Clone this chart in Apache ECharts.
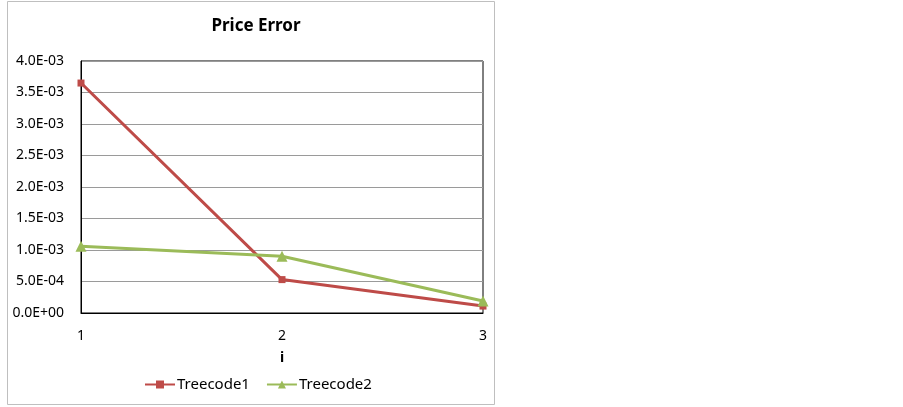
<!DOCTYPE html>
<html><head><meta charset="utf-8">
<script src="https://cdn.jsdelivr.net/npm/echarts@6/dist/echarts.min.js"></script>
<style>html,body{margin:0;padding:0;background:#fff}#c{width:903px;height:407px}</style>
</head><body><div id="c"></div>
<script>
const categories = [1, 2, 3];
const treecode1 = [0.00365, 0.00053, 0.00011];
const treecode2 = [0.00106, 0.00090, 0.00019];
const seriesNames = ['Treecode1', 'Treecode2'];
const yTicks = [0, 0.0005, 0.001, 0.0015, 0.002, 0.0025, 0.003, 0.0035, 0.004];

function fmt(v) {
  if (v === 0) return '0.0E+00';
  let s = v.toExponential(1).toUpperCase();
  return s.replace(/E([+-])(\d)$/, 'E$10$2');
}
const font = 'Noto Sans';
const chart = echarts.init(document.getElementById('c'));
chart.setOption({
  animation: false,
  backgroundColor: '#fff',
  graphic: [{type: 'rect', shape: {x: 7.5, y: 1.5, width: 487, height: 403}, style: {fill: 'none', stroke: '#bfbfbf', lineWidth: 1}, z: -1}],
  title: {text: 'Price Error', left: 251, textAlign: 'center', top: 13, textStyle: {fontFamily: font, fontSize: 17, fontWeight: 'bold', color: '#000'}},
  grid: {left: 81, top: 61, width: 402, height: 252, show: true, borderColor: '#000', borderWidth: 1, containLabel: false},
  legend: {data: seriesNames, left: 139, top: 372, itemGap: 16, itemWidth: 30, itemHeight: 10,
    textStyle: {fontFamily: font, fontSize: 15, color: '#000', padding: [0, 0, 0, -3]}},
  xAxis: {type: 'value', min: 1, max: 3, interval: 1, name: 'i', nameLocation: 'middle', nameGap: 38,
    nameTextStyle: {fontFamily: font, fontSize: 14, color: '#000', fontWeight: 'bold'},
    axisLine: {lineStyle: {color: '#000'}}, axisTick: {show: false}, splitLine: {show: false},
    axisLabel: {fontFamily: font, fontSize: 14, color: '#000', margin: 16}},
  yAxis: {type: 'value', min: 0, max: 0.004, interval: 0.0005,
    axisLine: {show: true, lineStyle: {color: '#000'}}, axisTick: {show: false},
    splitLine: {lineStyle: {color: '#9a9a9a'}},
    axisLabel: {fontFamily: font, fontSize: 14, color: '#000', formatter: fmt, margin: 17}},
  series: [
    {name: seriesNames[0], type: 'line', data: categories.map((c, i) => [c, treecode1[i]]), symbol: 'rect', symbolSize: 7,
      lineStyle: {color: '#BE4B48', width: 3}, itemStyle: {color: '#BE4B48'}},
    {name: seriesNames[1], type: 'line', data: categories.map((c, i) => [c, treecode2[i]]), symbol: 'triangle', symbolSize: 11,
      lineStyle: {color: '#9BBB59', width: 3}, itemStyle: {color: '#9BBB59'}}
  ]
});
</script></body></html>
